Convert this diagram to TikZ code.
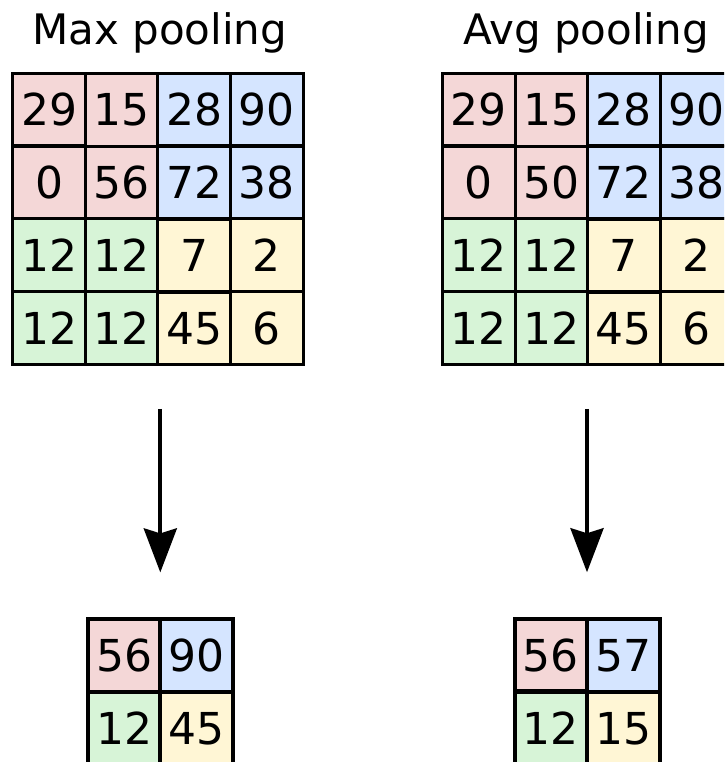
\documentclass[tikz,border=0pt]{standalone}
\usepackage{fontspec}
\setmainfont{DejaVu Sans}
\usepackage{tikz}
\usetikzlibrary{
  arrows.meta,
  matrix,
  positioning
}
\definecolor{poolRed}{HTML}{F4D7D7}
\definecolor{poolBlue}{HTML}{D5E5FF}
\definecolor{poolGreen}{HTML}{D7F4D7}
\definecolor{poolYellow}{HTML}{FFF6D5}
\tikzset{
  bigfont/.style={font=\fontsize{42pt}{50pt}\selectfont},
  numfont/.style={font=\fontsize{44pt}{52pt}\selectfont},
  heading/.style={bigfont, inner sep=0pt, anchor=base},
  cell/.style={
    draw, line width=3pt, minimum size=72.5pt, inner sep=0pt, outer sep=0pt, numfont
  },
  outcell/.style={cell, line width=4pt},
  rd/.style={fill=poolRed},
  bl/.style={fill=poolBlue},
  gr/.style={fill=poolGreen},
  yl/.style={fill=poolYellow},
  poolgrid/.style={
    matrix of nodes, inner sep=0pt, outer sep=0pt, nodes={cell},
    column sep=-3pt, row sep=-3pt
  },
  outgrid/.style={poolgrid, nodes={outcell}, column sep=-4pt, row sep=-4pt},
  pool/.style={-{Stealth[length=44pt, width=33pt, inset=5pt]}, line width=4pt}
}

\begin{document}
\begin{tikzpicture}[x=1pt, y=-1pt]
  \useasboundingbox (0,0) rectangle (724,762);
  \clip (0,0) rectangle (724,762);
  % input maps
  \matrix[poolgrid] (mx) at (158,219) {
    |[rd]| 29 & |[rd]| 15 & |[bl]| 28 & |[bl]| 90 \\
    |[rd]| 0  & |[rd]| 56 & |[bl]| 72 & |[bl]| 38 \\
    |[gr]| 12 & |[gr]| 12 & |[yl]| 7  & |[yl]| 2  \\
    |[gr]| 12 & |[gr]| 12 & |[yl]| 45 & |[yl]| 6  \\
  };
  \matrix[poolgrid] (av) at (587.7,219) {
    |[rd]| 29 & |[rd]| 15 & |[bl]| 28 & |[bl]| 90 \\
    |[rd]| 0  & |[rd]| 50 & |[bl]| 72 & |[bl]| 38 \\
    |[gr]| 12 & |[gr]| 12 & |[yl]| 7  & |[yl]| 2  \\
    |[gr]| 12 & |[gr]| 12 & |[yl]| 45 & |[yl]| 6  \\
  };
  \node[heading] (mxtitle) at ([xshift=1.7pt, yshift=26.8pt]mx.north) {Max pooling};
  \node[heading] (avtitle) at ([xshift=-1.7pt, yshift=26.8pt]av.north) {Avg pooling};
  % pooled outputs
  \matrix[outgrid] (mxout) at (160.3,691.8) {
    |[rd]| 56 & |[bl]| 90 \\
    |[gr]| 12 & |[yl]| 45 \\
  };
  \matrix[outgrid] (avout) at (587,691.8) {
    |[rd]| 56 & |[bl]| 57 \\
    |[gr]| 12 & |[yl]| 15 \\
  };
  \draw[pool] ([yshift=-42.5pt]mxout.north |- mx.south) -- ([yshift=44.6pt]mxout.north);
  \draw[pool] ([yshift=-42.5pt]avout.north |- av.south) -- ([yshift=44.6pt]avout.north);
\end{tikzpicture}
\end{document}
